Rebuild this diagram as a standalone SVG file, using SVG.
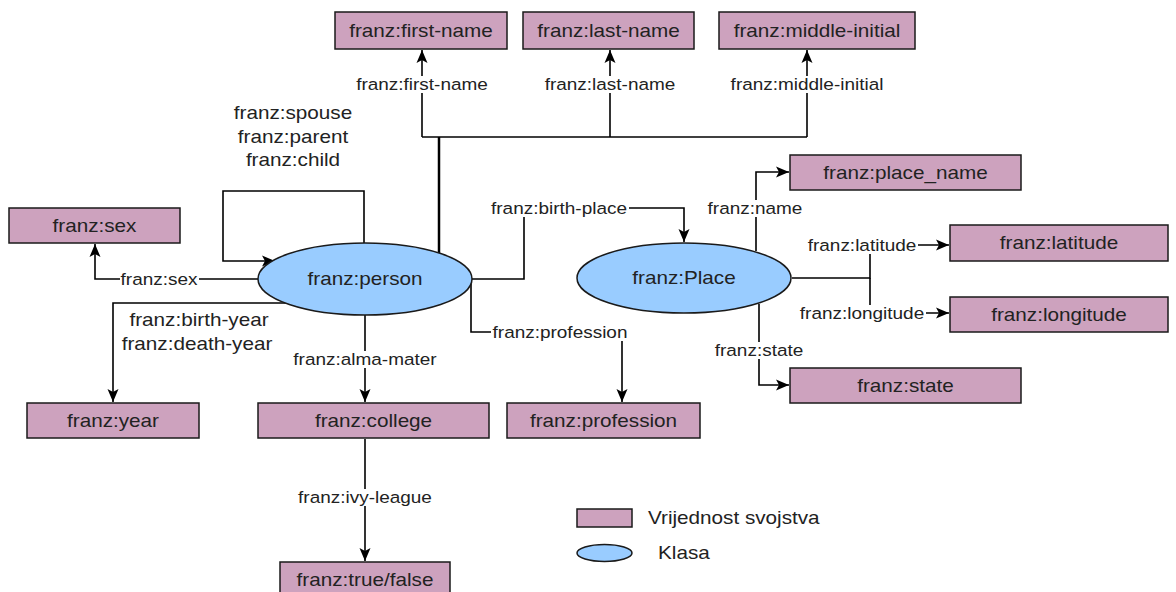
<svg xmlns="http://www.w3.org/2000/svg" width="1176" height="592" viewBox="0 0 1176 592">
<style>
  .box { fill: #CDA2BE; stroke: #1a1a1a; stroke-width: 1.5; }
  .cls { fill: #99CCFF; stroke: #1a1a1a; stroke-width: 1.5; }
  .t { font-family: "Liberation Sans", Arial, sans-serif; font-size: 18px; fill: #222; text-anchor: middle; }
  .e { font-family: "Liberation Sans", Arial, sans-serif; font-size: 16.5px; fill: #222; text-anchor: middle; }
  .lg { font-family: "Liberation Sans", Arial, sans-serif; font-size: 18px; fill: #222; text-anchor: start; }
  .ln { fill: none; stroke: #000; stroke-width: 1.6; }
  .bg { fill: #fff; }
</style>
<defs>
  <marker id="arr" markerUnits="userSpaceOnUse" markerWidth="15" markerHeight="14" viewBox="0 0 15 14" refX="14" refY="7" orient="auto">
    <path d="M1,1.5 L14,7 L1,12.5 L4,7 z" fill="#000"/>
  </marker>
</defs>

<g id="connectors">
  <path class="ln" d="M422,137 V50" marker-end="url(#arr)"/>
  <path class="ln" d="M610,137 V50" marker-end="url(#arr)"/>
  <path class="ln" d="M807,137 V50" marker-end="url(#arr)"/>
  <path class="ln" d="M422,137 H807"/>
  <path class="ln" d="M439,253 V137" style="stroke-width:2.5"/>
  <path class="ln" d="M364,243 V191 H223 V261 H275" marker-end="url(#arr)"/>
  <path class="ln" d="M258,279 H95 V244" marker-end="url(#arr)"/>
  <path class="ln" d="M287,303 H113 V402" marker-end="url(#arr)"/>
  <path class="ln" d="M365,315 V402" marker-end="url(#arr)"/>
  <path class="ln" d="M365,439 V561" marker-end="url(#arr)"/>
  <path class="ln" d="M471,284 V332 H622 V402" marker-end="url(#arr)"/>
  <path class="ln" d="M472,279 H524 V208 H684 V242" marker-end="url(#arr)"/>
  <path class="ln" d="M756,251 V172 H789" marker-end="url(#arr)"/>
  <path class="ln" d="M792,278 H870 V245 H949" marker-end="url(#arr)"/>
  <path class="ln" d="M870,278 V313 H949" marker-end="url(#arr)"/>
  <path class="ln" d="M759,304 V385 H789" marker-end="url(#arr)"/>

  <rect class="bg" x="354" y="76" width="136" height="17"/>
  <text class="e" transform="matrix(1.15 0 0 1 422 84)" dy="0.35em">franz:first-name</text>
  <rect class="bg" x="544" y="76" width="132" height="17"/>
  <text class="e" transform="matrix(1.15 0 0 1 610 84)" dy="0.35em">franz:last-name</text>
  <rect class="bg" x="729" y="76" width="156" height="17"/>
  <text class="e" transform="matrix(1.15 0 0 1 807 84)" dy="0.35em">franz:middle-initial</text>
  <rect class="bg" x="490" y="200" width="139" height="17"/>
  <text class="e" transform="matrix(1.15 0 0 1 559 208)" dy="0.35em">franz:birth-place</text>
  <rect class="bg" x="707" y="200" width="96" height="17"/>
  <text class="e" transform="matrix(1.15 0 0 1 755 208)" dy="0.35em">franz:name</text>
  <rect class="bg" x="807" y="237" width="111" height="17"/>
  <text class="e" transform="matrix(1.15 0 0 1 862 245)" dy="0.35em">franz:latitude</text>
  <rect class="bg" x="798" y="305" width="128" height="17"/>
  <text class="e" transform="matrix(1.15 0 0 1 862 313)" dy="0.35em">franz:longitude</text>
  <rect class="bg" x="714" y="342" width="90" height="17"/>
  <text class="e" transform="matrix(1.15 0 0 1 759 350)" dy="0.35em">franz:state</text>
  <rect class="bg" x="491" y="324" width="138" height="17"/>
  <text class="e" transform="matrix(1.15 0 0 1 560 332)" dy="0.35em">franz:profession</text>
  <rect class="bg" x="120" y="271" width="79" height="17"/>
  <text class="e" transform="matrix(1.15 0 0 1 159 279)" dy="0.35em">franz:sex</text>
  <rect class="bg" x="292" y="351" width="147" height="17"/>
  <text class="e" transform="matrix(1.15 0 0 1 365 359)" dy="0.35em">franz:alma-mater</text>
  <rect class="bg" x="297" y="489" width="137" height="17"/>
  <text class="e" transform="matrix(1.15 0 0 1 365 497)" dy="0.35em">franz:ivy-league</text>

  <text class="t" transform="matrix(1.15 0 0 1 293 113)" dy="0.35em">franz:spouse</text>
  <text class="t" transform="matrix(1.15 0 0 1 293 137)" dy="0.35em">franz:parent</text>
  <text class="t" transform="matrix(1.15 0 0 1 293 160)" dy="0.35em">franz:child</text>
  <text class="t" transform="matrix(1.15 0 0 1 199 320)" dy="0.35em">franz:birth-year</text>
  <text class="t" transform="matrix(1.15 0 0 1 197 344)" dy="0.35em">franz:death-year</text>
</g>

<g id="n-first-name"><rect class="box" x="335" y="12" width="172" height="37"/><text class="t" transform="matrix(1.15 0 0 1 421 30.5)" dy="0.35em">franz:first-name</text></g>
<g id="n-last-name"><rect class="box" x="523" y="12" width="171" height="37"/><text class="t" transform="matrix(1.15 0 0 1 608.5 30.5)" dy="0.35em">franz:last-name</text></g>
<g id="n-middle-initial"><rect class="box" x="719" y="12" width="196" height="37"/><text class="t" transform="matrix(1.15 0 0 1 817 30.5)" dy="0.35em">franz:middle-initial</text></g>
<g id="n-place-name"><rect class="box" x="790" y="155" width="231" height="35"/><text class="t" transform="matrix(1.15 0 0 1 905.5 172.5)" dy="0.35em">franz:place_name</text></g>
<g id="n-latitude"><rect class="box" x="950" y="225" width="218" height="36"/><text class="t" transform="matrix(1.15 0 0 1 1059 243)" dy="0.35em">franz:latitude</text></g>
<g id="n-longitude"><rect class="box" x="950" y="297" width="218" height="35"/><text class="t" transform="matrix(1.15 0 0 1 1059 314.5)" dy="0.35em">franz:longitude</text></g>
<g id="n-state"><rect class="box" x="790" y="368" width="231" height="35"/><text class="t" transform="matrix(1.15 0 0 1 905.5 385.5)" dy="0.35em">franz:state</text></g>
<g id="n-sex"><rect class="box" x="9" y="208" width="171" height="35"/><text class="t" transform="matrix(1.15 0 0 1 94.5 225.5)" dy="0.35em">franz:sex</text></g>
<g id="n-year"><rect class="box" x="27" y="403" width="172" height="35"/><text class="t" transform="matrix(1.15 0 0 1 113 420.5)" dy="0.35em">franz:year</text></g>
<g id="n-college"><rect class="box" x="258" y="403" width="231" height="35"/><text class="t" transform="matrix(1.15 0 0 1 373.5 420.5)" dy="0.35em">franz:college</text></g>
<g id="n-profession"><rect class="box" x="507" y="403" width="193" height="35"/><text class="t" transform="matrix(1.15 0 0 1 603.5 420.5)" dy="0.35em">franz:profession</text></g>
<g id="n-true-false"><rect class="box" x="280" y="562" width="170" height="36"/><text class="t" transform="matrix(1.15 0 0 1 365 580)" dy="0.35em">franz:true/false</text></g>

<g id="n-person"><ellipse class="cls" cx="365" cy="279" rx="107" ry="36"/><text class="t" transform="matrix(1.15 0 0 1 365 279)" dy="0.35em">franz:person</text></g>
<g id="n-place"><ellipse class="cls" cx="684" cy="278" rx="107" ry="35"/><text class="t" transform="matrix(1.15 0 0 1 684 278)" dy="0.35em">franz:Place</text></g>

<g id="legend">
  <rect class="box" x="577" y="509" width="55" height="18"/>
  <text class="lg" transform="matrix(1.15 0 0 1 648 518)" dy="0.35em">Vrijednost svojstva</text>
  <ellipse class="cls" cx="604.5" cy="553" rx="27.5" ry="8.5"/>
  <text class="lg" transform="matrix(1.15 0 0 1 658 553)" dy="0.35em">Klasa</text>
</g>
</svg>
